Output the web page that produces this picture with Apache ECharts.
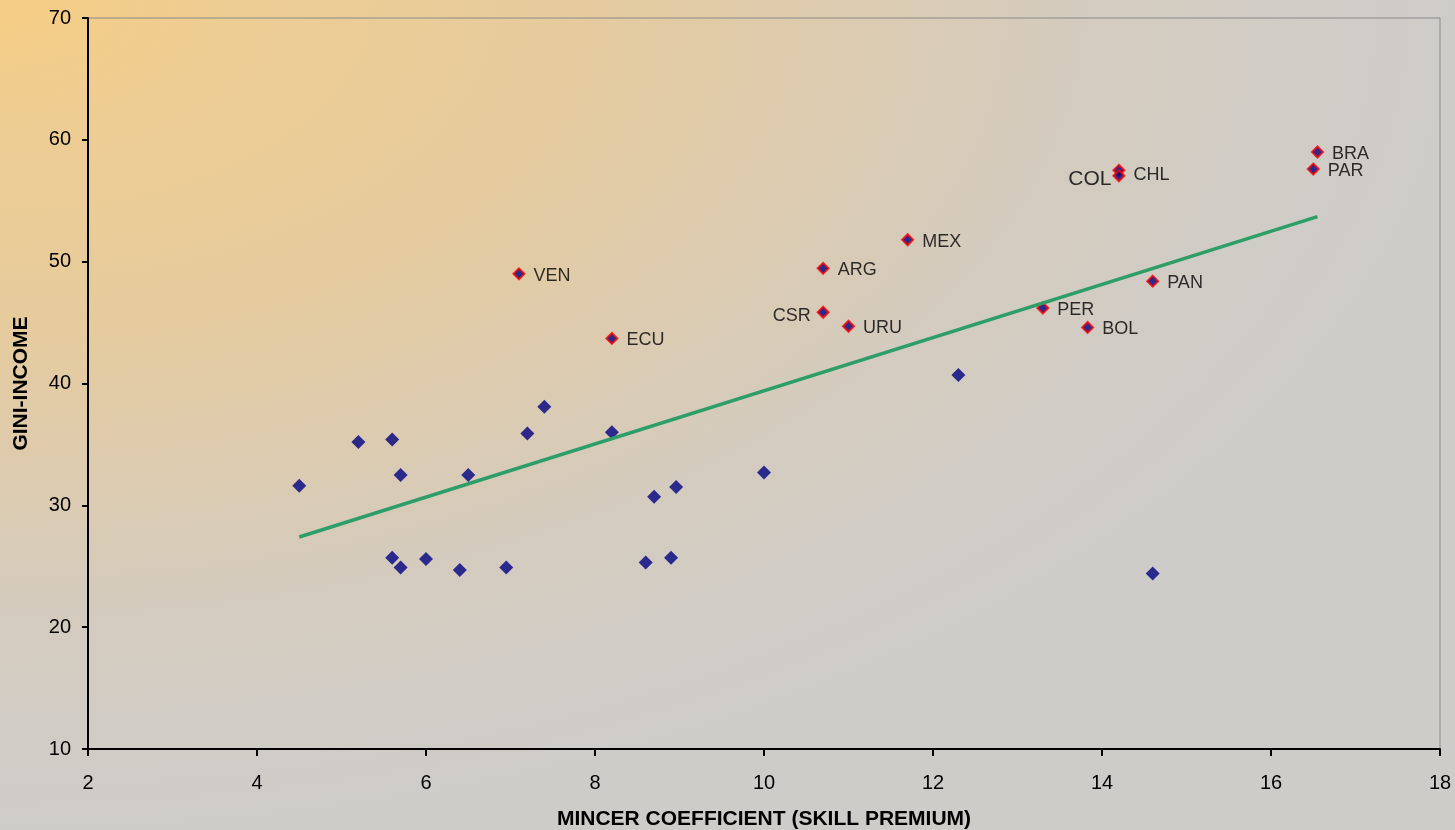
<!DOCTYPE html>
<html>
<head>
<meta charset="utf-8">
<script src="https://cdn.jsdelivr.net/npm/echarts@6/dist/echarts.min.js"></script>
<style>
html,body{margin:0;padding:0;background:#d0ccc6;}
#chart{width:1455px;height:830px;}
</style>
</head>
<body>
<div id="chart"></div>
<script>
// Unlabelled countries
const plainX = [4.5, 5.2, 5.6, 5.7, 6.5, 7.2, 7.4, 8.2, 5.6, 5.7, 6.0, 6.4, 6.95, 8.6, 8.9, 8.7, 8.96, 10.0, 12.3, 14.6];
const plainY = [31.6, 35.2, 35.4, 32.5, 32.5, 35.9, 38.1, 36.0, 25.7, 24.9, 25.6, 24.7, 24.9, 25.3, 25.7, 30.7, 31.5, 32.7, 40.7, 24.4];
// Latin American countries (labelled)
const labNames = ['VEN', 'ECU', 'ARG', 'MEX', 'CSR', 'URU', 'COL', 'CHL', 'BRA', 'PAR', 'PAN', 'PER', 'BOL'];
const labX = [7.1, 8.2, 10.7, 11.7, 10.7, 11.0, 14.2, 14.2, 16.55, 16.5, 14.6, 13.3, 13.83];
const labY = [49.0, 43.7, 49.45, 51.8, 45.85, 44.7, 57.5, 57.05, 59.0, 57.6, 48.4, 46.2, 44.6];
// Linear trend line end points
const trendX = [4.5, 16.55];
const trendY = [27.4, 53.7];
// Axis
const xMin = 2, xMax = 18, xStep = 2;
const yMin = 10, yMax = 70, yStep = 10;
const xTitle = 'MINCER COEFFICIENT (SKILL PREMIUM)';
const yTitle = 'GINI-INCOME';

const FONT = 'Liberation Sans, Arial, sans-serif';
const chart = echarts.init(document.getElementById('chart'), null, {renderer: 'canvas'});

const labelOverrides = {
  CSR: {position: 'left', distance: 6, offset: [0, 4]},
  COL: {position: 'left', distance: 1, offset: [0, 9], fontSize: 21},
  CHL: {offset: [0, -1]}
};

const labData = labNames.map((n, i) => {
  const item = {name: n, value: [labX[i], labY[i]]};
  if (labelOverrides[n]) item.label = labelOverrides[n];
  return item;
});

const option = {
  animation: false,
  backgroundColor: 'transparent',
  graphic: [{
    type: 'rect',
    z: -100,
    silent: true,
    scaleX: 1455 / 830,
    shape: {x: 0, y: 0, width: 830, height: 830},
    style: {
      fill: {
        type: 'radial', x: 0, y: 0, r: 1,
        colorStops: [
          {offset: 0, color: '#F6CD84'},
          {offset: 0.15, color: '#EECD93'},
          {offset: 0.38, color: '#E6CB9C'},
          {offset: 0.55, color: '#DECBAD'},
          {offset: 0.73, color: '#D4CBBD'},
          {offset: 0.9, color: '#D0CCC6'},
          {offset: 1, color: '#CECCC9'}
        ]
      }
    }
  }],
  grid: {
    left: 88, right: 15, top: 18, bottom: 81,
    outerBoundsMode: 'none', containLabel: false,
    show: true, borderColor: '#8a8a8a', borderWidth: 1, backgroundColor: 'transparent'
  },
  xAxis: {
    type: 'value', min: xMin, max: xMax, interval: xStep,
    name: xTitle, nameLocation: 'middle', nameGap: 60,
    nameTextStyle: {fontFamily: FONT, fontWeight: 'bold', fontSize: 21, color: '#000'},
    axisLine: {show: true, lineStyle: {color: '#000', width: 2}},
    axisTick: {show: true, length: 7, lineStyle: {color: '#000', width: 2}},
    axisLabel: {margin: 24, fontFamily: FONT, fontSize: 20, color: '#000'},
    splitLine: {show: false}
  },
  yAxis: {
    type: 'value', min: yMin, max: yMax, interval: yStep,
    name: yTitle, nameLocation: 'middle', nameGap: 56, nameRotate: 90,
    nameTextStyle: {fontFamily: FONT, fontWeight: 'bold', fontSize: 21, color: '#000'},
    axisLine: {show: true, lineStyle: {color: '#000', width: 2}},
    axisTick: {show: true, length: 6, lineStyle: {color: '#000', width: 2}},
    axisLabel: {margin: 17, fontFamily: FONT, fontSize: 20, color: '#000'},
    splitLine: {show: false}
  },
  series: [
    {
      type: 'scatter',
      symbol: 'diamond',
      symbolSize: 14,
      itemStyle: {color: '#000080'},
      data: plainX.map((x, i) => [x, plainY[i]]),
      z: 2
    },
    {
      type: 'scatter',
      symbol: 'diamond',
      symbolSize: 11,
      itemStyle: {color: '#000080', borderColor: '#FF0000', borderWidth: 2},
      label: {
        show: true, position: 'right', distance: 8, offset: [0, 2],
        formatter: p => p.name,
        fontFamily: FONT, fontSize: 18, color: '#000'
      },
      data: labData,
      z: 3
    },
    {
      type: 'line',
      data: trendX.map((x, i) => [x, trendY[i]]),
      symbol: 'none',
      lineStyle: {color: '#2E9E68', width: 3.5},
      z: 4,
      silent: true
    }
  ]
};
chart.setOption(option);
</script>
</body>
</html>
